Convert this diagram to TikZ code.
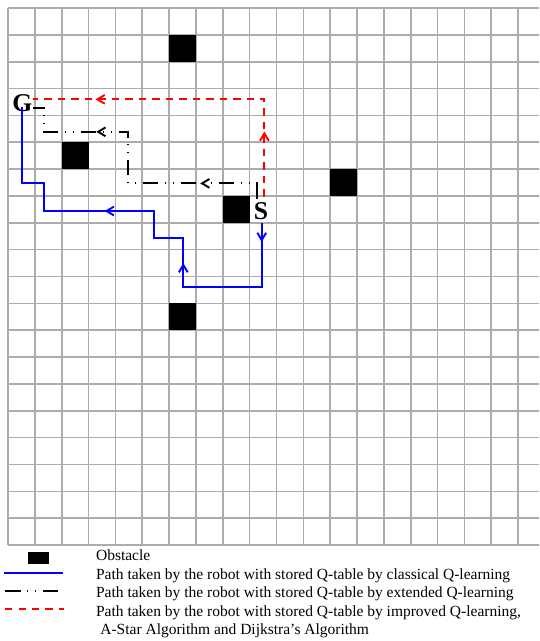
\documentclass[tikz,border=0pt]{standalone}
\usepackage{fontspec}
\setmainfont{Liberation Serif}
\usetikzlibrary{arrows.meta,decorations.markings}
\colorlet{gridgray}{gray!65}
\tikzset{
  classical/.style={blue, line width=1.4pt},
  extended/.style={black, line width=1.4pt},
  improved/.style={red, line width=1.4pt},
  extdash/.style={dash pattern=on 11.5pt off 5pt on 0.8pt off 5pt on 0.8pt off 5pt},
  impdash/.style={dash pattern=on 5.5pt off 4.5pt},
  tipat/.style={postaction={decorate, decoration={markings,
      mark=at position #1 with {\arrow{Straight Barb[length=5.5pt,width=6.5pt]}}}}},
  legendtext/.style={anchor=base west, inner sep=0pt, font=\fontsize{11.5}{13.6}\selectfont},
  endlabel/.style={inner sep=0pt, font=\fontsize{19}{22}\selectfont\bfseries}
}

\begin{document}
\begin{tikzpicture}[x=0.7cm, y=0.7cm]
  \useasboundingbox (-0.298,-3.575) rectangle (19.78,20.30);
  \clip (-0.298,-3.575) rectangle (19.78,20.30);

  % grid and obstacles
  \draw[gridgray, line width=1.2pt, step=1] (0,0) grid (20,20);
  \foreach \i/\j in {6/18, 2/14, 8/12, 12/13, 6/8}
    \fill (\i,\j) rectangle ++(1,1);

  \node[endlabel] (G) at (0.53,16.44) {G};
  \node[endlabel] (S) at (9.42,12.44) {S};

  % classical Q-learning
  \coordinate (b0) at (9.45,12.0);
  \coordinate (b1) at (9.45,9.62);
  \coordinate (b2) at (6.53,9.62);
  \coordinate (b3) at (6.53,11.42);
  \coordinate (b4) at (5.44,11.42);
  \coordinate (b5) at (5.44,12.44);
  \coordinate (b6) at (1.35,12.44);
  \coordinate (b7) at (1.35,13.47);
  \coordinate (b8) at (0.53,13.47);
  \coordinate (b9) at (0.53,16.32);
  \draw[classical] (b0) -- (b1) -- (b2) -- (b3) -- (b4) -- (b5) -- (b6) -- (b7) -- (b8) -- (b9);
  \path[classical, tipat=0.3] (b0) -- (b1);
  \path[classical, tipat=0.49] (b2) -- (b3);
  \path[classical, tipat=0.45] (b5) -- (b6);

  % extended Q-learning
  \coordinate (k0) at (9.26,12.9);
  \coordinate (k1) at (9.26,13.47);
  \coordinate (k2) at (4.48,13.47);
  \coordinate (k3) at (4.48,15.39);
  \coordinate (k4) at (1.34,15.39);
  \coordinate (k5) at (1.34,16.27);
  \coordinate (k6) at (0.93,16.27);
  \draw[extended, extdash] (k0) -- (k1) -- (k2) -- (k3) -- (k4) -- (k5) -- (k6);
  \path[extended, tipat=0.44] (k1) -- (k2);
  \path[extended, tipat=0.38] (k3) -- (k4);

  % improved Q-learning
  \coordinate (r0) at (9.55,12.97);
  \coordinate (r1) at (9.55,16.6);
  \coordinate (r2) at (0.93,16.6);
  \draw[improved, impdash] (r0) -- (r1) -- (r2);
  \path[improved, tipat=0.67] (r0) -- (r1);
  \path[improved, tipat=0.73] (r1) -- (r2);

  % legend
  \fill (0.745,-0.71) rectangle (1.51,-0.26);
  \coordinate (l1a) at (-0.15,-1.03);
  \coordinate (l1b) at (2.05,-1.03);
  \coordinate (l2a) at (-0.11,-1.71);
  \coordinate (l2b) at (1.90,-1.71);
  \coordinate (l3a) at (-0.11,-2.38);
  \coordinate (l3b) at (2.10,-2.38);
  \draw[classical] (l1a) -- (l1b);
  \draw[extended, extdash] (l2a) -- (l2b);
  \draw[improved, impdash] (l3a) -- (l3b);

  \node[legendtext] (obsl) at (3.27,-0.585) {Obstacle};
  \node[legendtext] (clsl) at (3.27,-1.27) {Path taken by the robot with stored Q-table by classical Q-learning};
  \node[legendtext] (extl) at (3.27,-1.95) {Path taken by the robot with stored Q-table by extended Q-learning};
  \node[legendtext] (impl) at (3.27,-2.65) {Path taken by the robot with stored Q-table by improved Q-learning,};
  \node[legendtext] (astl) at (3.43,-3.33) {A-Star Algorithm and Dijkstra’s Algorithm};
\end{tikzpicture}
\end{document}
